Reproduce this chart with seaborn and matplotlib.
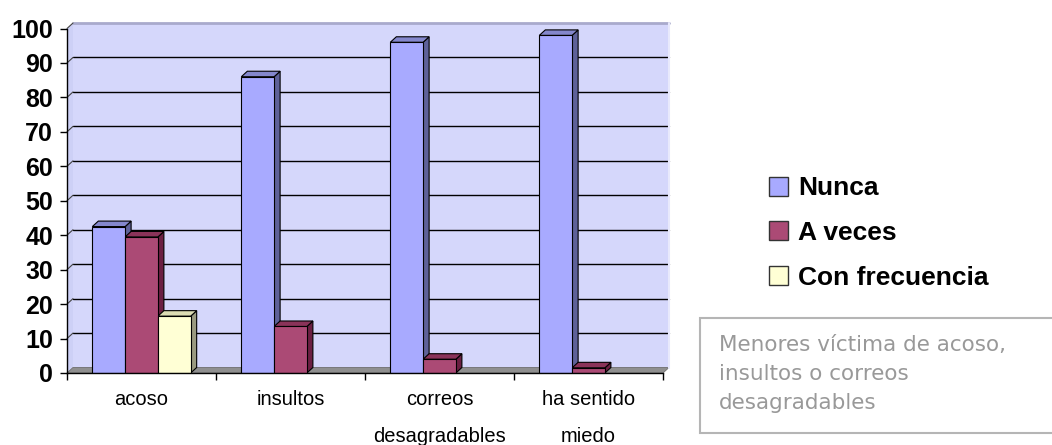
import pandas as pd
import matplotlib.pyplot as plt
import seaborn as sns
from matplotlib.patches import Polygon, Rectangle, Patch
from matplotlib.lines import Line2D


# data
categorias = ["acoso", "insultos", "correos\ndesagradables", "ha sentido\nmiedo"]
series = ["Nunca", "A veces", "Con frecuencia"]
nunca = [42.5, 86, 96, 98]
a_veces = [39.5, 13.5, 4, 1.5]
con_frecuencia = [16.5, 0, 0, 0]
y_ticks = [0, 10, 20, 30, 40, 50, 60, 70, 80, 90, 100]

# colours: front face, side face, top face
caras = {
    "Nunca": ("#a8aaff", "#5e6199", "#8487cc"),
    "A veces": ("#ab4a75", "#6b1f42", "#8a3359"),
    "Con frecuencia": ("#ffffd5", "#9a9a80", "#dcdcb4"),
}

df = pd.DataFrame({
    "categoria": categorias * 3,
    "serie": [s for s in series for _ in categorias],
    "valor": nunca + a_veces + con_frecuencia,
})

sns.set_style("white")
plt.rcParams["font.family"] = ["Liberation Sans", "DejaVu Sans"]
plt.rcParams["text.color"] = "black"
plt.rcParams["xtick.color"] = "black"
plt.rcParams["ytick.color"] = "black"

fig = plt.figure(figsize=(10.52, 4.45), dpi=100)
ax = fig.add_axes([67 / 1052, 1 - 373 / 445, 596 / 1052, 344.5 / 445])
ax.set_facecolor("none")

sns.barplot(
    data=df,
    x="categoria",
    y="valor",
    hue="serie",
    hue_order=series,
    palette={s: caras[s][0] for s in series},
    width=0.66,
    edgecolor="black",
    linewidth=0.8,
    saturation=1,
    legend=False,
    ax=ax,
    zorder=3,
)

ax.set_xlim(-0.5, 3.5)
ax.set_ylim(0, 100)

# depth of the 3D effect, 6 px right and 5.5 px up, in data units
inv = ax.transData.inverted()
p0 = inv.transform((0, 0))
p1 = inv.transform((6, 5.5))
ddx = p1[0] - p0[0]
ddy = p1[1] - p0[1]

x_a, x_b = -0.5, 3.5

# back wall, side wall and floor
ax.add_patch(Rectangle((x_a + ddx, ddy), x_b - x_a, 100, facecolor="#d5d7fb",
                       edgecolor="none", zorder=0, clip_on=False))
ax.add_patch(Polygon([(x_a, 0), (x_a + ddx, ddy), (x_a + ddx, 100 + ddy), (x_a, 100)],
                     closed=True, facecolor="#cdd0f6", edgecolor="none",
                     zorder=0, clip_on=False))
ax.add_patch(Polygon([(x_a, 0), (x_b, 0), (x_b + ddx, ddy), (x_a + ddx, ddy)],
                     closed=True, facecolor="#8f8f8f", edgecolor="#6f6f6f",
                     linewidth=0.6, zorder=1, clip_on=False))

# gridlines on the wall
for v in y_ticks[1:]:
    color = "#a9aacc" if v == 100 else "black"
    lw = 2 if v == 100 else 1
    ax.add_line(Line2D([x_a + ddx, x_b + ddx], [v + ddy, v + ddy], color=color,
                       linewidth=lw, zorder=1, clip_on=False))
    ax.add_line(Line2D([x_a, x_a + ddx], [v, v + ddy], color="#444444",
                       linewidth=0.8, zorder=1, clip_on=False))
ax.add_line(Line2D([x_b + ddx, x_b + ddx], [ddy, 100 + ddy], color="#e8e9fc",
                   linewidth=1.5, zorder=1, clip_on=False))

# side and top faces of each bar
for cont, serie in zip(ax.containers, series):
    _, lateral, tapa = caras[serie]
    for bar in cont:
        h = bar.get_height()
        if not h or h <= 0:
            bar.set_visible(False)
            continue
        x0 = bar.get_x()
        x1 = x0 + bar.get_width()
        ax.add_patch(Polygon([(x1, 0), (x1 + ddx, ddy), (x1 + ddx, h + ddy), (x1, h)],
                             closed=True, facecolor=lateral, edgecolor="black",
                             linewidth=0.8, zorder=2.5, clip_on=False))
        ax.add_patch(Polygon([(x0, h), (x0 + ddx, h + ddy), (x1 + ddx, h + ddy), (x1, h)],
                             closed=True, facecolor=tapa, edgecolor="black",
                             linewidth=0.8, zorder=2.5, clip_on=False))

# axes and ticks
sns.despine(ax=ax, top=True, right=True)
for side in ["left", "bottom"]:
    ax.spines[side].set_color("black")
    ax.spines[side].set_linewidth(1)
    ax.spines[side].set_zorder(4)

ax.set_yticks(y_ticks)
ax.set_yticklabels([str(v) for v in y_ticks], fontsize=18, fontweight="bold",
                   color="black")
ax.tick_params(axis="y", length=5, width=1, pad=5, direction="out", left=True)

ax.set_xticks(range(len(categorias)))
ax.set_xticklabels(categorias, fontsize=14.5, linespacing=2.2, color="black")
ax.tick_params(axis="x", which="major", length=0, pad=12)
ax.set_xticks([-0.5, 0.5, 1.5, 2.5, 3.5], minor=True)
ax.tick_params(axis="x", which="minor", length=5, width=1, direction="out", bottom=True)

ax.set_xlabel("")
ax.set_ylabel("")

# legend
handles = [Patch(facecolor=caras[s][0], edgecolor="#333333", linewidth=1) for s in series]
fig.legend(
    handles,
    series,
    loc="center left",
    bbox_to_anchor=(745 / 1052, 1 - 233 / 445),
    frameon=False,
    prop={"size": 19, "weight": "bold"},
    handlelength=0.72,
    handleheight=0.72,
    handletextpad=0.38,
    labelspacing=0.78,
)

# caption box
fig.patches.append(Rectangle((700 / 1052, 1 - 433 / 445), 400 / 1052, 115 / 445,
                             transform=fig.transFigure, facecolor="white",
                             edgecolor="#b5b5b5", linewidth=1.5))
fig.text(719 / 1052, 1 - 335 / 445,
         "Menores víctima de acoso,\ninsultos o correos\ndesagradables",
         ha="left", va="top", fontsize=15.5, color="#999999",
         family=["DejaVu Sans"], linespacing=1.55)

plt.savefig("out.png", dpi=100)
